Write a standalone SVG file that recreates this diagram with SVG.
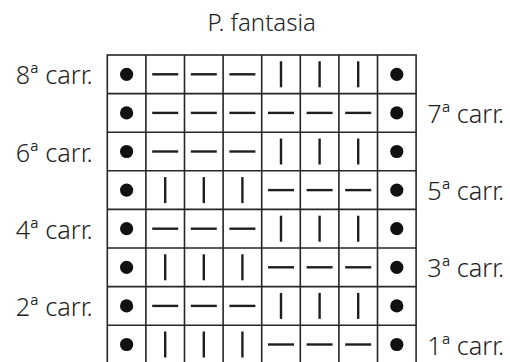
<svg xmlns="http://www.w3.org/2000/svg" xmlns:xlink="http://www.w3.org/1999/xlink" width="510" height="362" viewBox="0 0 510 362">
<style>
.lbl{font-family:"Noto Sans","DejaVu Sans",sans-serif;font-size:25.2px;font-weight:300;fill:#222}
.ttl{font-size:24px}
.grid{fill:none;stroke:#262626;stroke-width:1.6}
.sym{stroke:#1e1e1e;stroke-width:2.4;fill:none}
.dot{fill:#111}
</style>
<defs>
<circle id="d" class="dot" cx="19.3" cy="19.3" r="6.6"/>
<line id="h" class="sym" x1="6.3" y1="19.3" x2="32.3" y2="19.3"/>
<line id="v" class="sym" x1="19.3" y1="6.3" x2="19.3" y2="32.3"/>
</defs>
<rect width="510" height="362" fill="#fff"/>
<text id="title" class="lbl ttl" x="261.7" y="31" text-anchor="middle">P. fantasia</text>
<g id="grid" class="grid">
<rect x="107.3" y="55" width="308.8" height="308.8"/>
<path d="M145.9 55V364M184.5 55V364M223.1 55V364M261.7 55V364M300.3 55V364M338.9 55V364M377.5 55V364M107.3 93.6H416.1M107.3 132.2H416.1M107.3 170.8H416.1M107.3 209.4H416.1M107.3 248H416.1M107.3 286.6H416.1M107.3 325.2H416.1"/>
</g>
<g id="row8" transform="translate(107.3,55)">
<use href="#d" x="0"/><use href="#h" x="38.6"/><use href="#h" x="77.2"/><use href="#h" x="115.8"/><use href="#v" x="154.4"/><use href="#v" x="193"/><use href="#v" x="231.6"/><use href="#d" x="270.2"/>
</g>
<g id="row7" transform="translate(107.3,93.6)">
<use href="#d" x="0"/><use href="#h" x="38.6"/><use href="#h" x="77.2"/><use href="#h" x="115.8"/><use href="#h" x="154.4"/><use href="#h" x="193"/><use href="#h" x="231.6"/><use href="#d" x="270.2"/>
</g>
<g id="row6" transform="translate(107.3,132.2)">
<use href="#d" x="0"/><use href="#h" x="38.6"/><use href="#h" x="77.2"/><use href="#h" x="115.8"/><use href="#v" x="154.4"/><use href="#v" x="193"/><use href="#v" x="231.6"/><use href="#d" x="270.2"/>
</g>
<g id="row5" transform="translate(107.3,170.8)">
<use href="#d" x="0"/><use href="#v" x="38.6"/><use href="#v" x="77.2"/><use href="#v" x="115.8"/><use href="#h" x="154.4"/><use href="#h" x="193"/><use href="#h" x="231.6"/><use href="#d" x="270.2"/>
</g>
<g id="row4" transform="translate(107.3,209.4)">
<use href="#d" x="0"/><use href="#h" x="38.6"/><use href="#h" x="77.2"/><use href="#h" x="115.8"/><use href="#v" x="154.4"/><use href="#v" x="193"/><use href="#v" x="231.6"/><use href="#d" x="270.2"/>
</g>
<g id="row3" transform="translate(107.3,248)">
<use href="#d" x="0"/><use href="#v" x="38.6"/><use href="#v" x="77.2"/><use href="#v" x="115.8"/><use href="#h" x="154.4"/><use href="#h" x="193"/><use href="#h" x="231.6"/><use href="#d" x="270.2"/>
</g>
<g id="row2" transform="translate(107.3,286.6)">
<use href="#d" x="0"/><use href="#h" x="38.6"/><use href="#h" x="77.2"/><use href="#h" x="115.8"/><use href="#v" x="154.4"/><use href="#v" x="193"/><use href="#v" x="231.6"/><use href="#d" x="270.2"/>
</g>
<g id="row1" transform="translate(107.3,325.2)">
<use href="#d" x="0"/><use href="#v" x="38.6"/><use href="#v" x="77.2"/><use href="#v" x="115.8"/><use href="#h" x="154.4"/><use href="#h" x="193"/><use href="#h" x="231.6"/><use href="#d" x="270.2"/>
</g>
<g id="labels" class="lbl">
<text x="92.7" y="84.3" text-anchor="end">8ª carr.</text>
<text x="427.3" y="122.9">7ª carr.</text>
<text x="92.7" y="161.5" text-anchor="end">6ª carr.</text>
<text x="427.3" y="200.1">5ª carr.</text>
<text x="92.7" y="238.7" text-anchor="end">4ª carr.</text>
<text x="427.3" y="277.3">3ª carr.</text>
<text x="92.7" y="315.9" text-anchor="end">2ª carr.</text>
<text x="427.3" y="354.5">1ª carr.</text>
</g>
<g id="connectors"/>
</svg>
